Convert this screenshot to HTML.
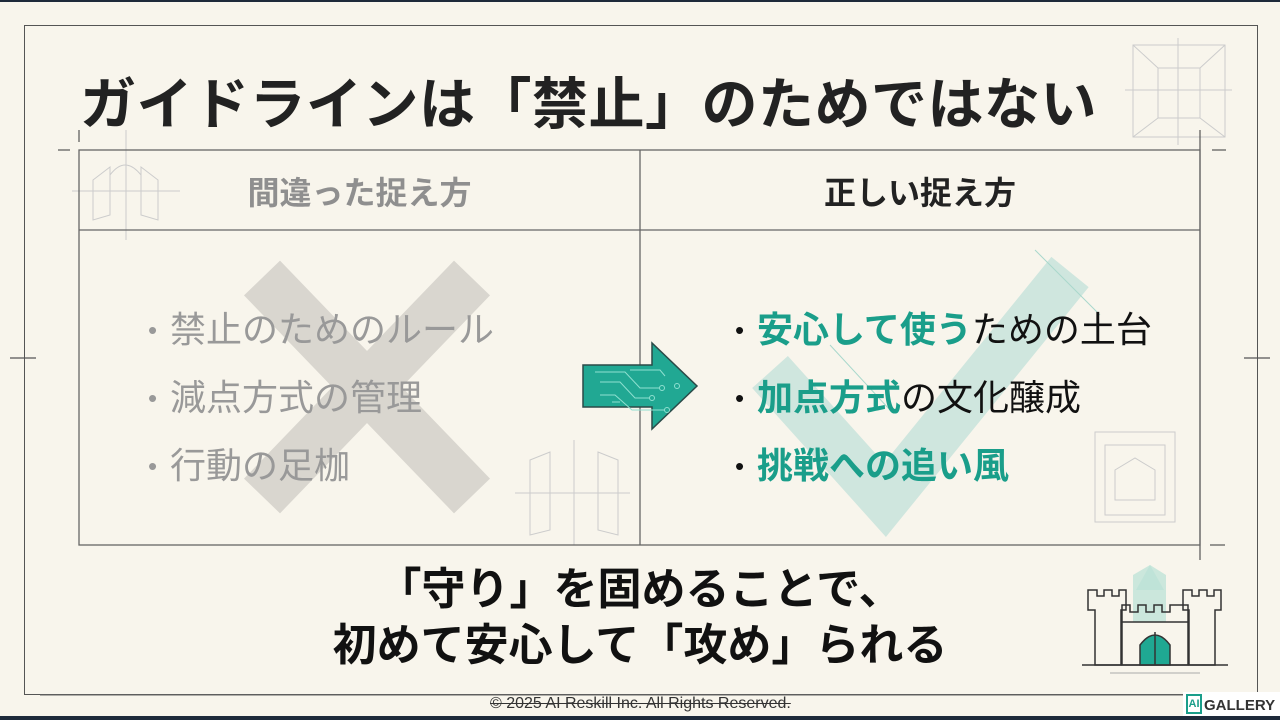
<!DOCTYPE html>
<html><head><meta charset="utf-8"><style>
*{margin:0;padding:0;box-sizing:border-box}
body{width:1280px;height:720px;overflow:hidden;background:#f8f5ec;position:relative;font-family:"Liberation Sans","Noto Sans CJK JP",sans-serif}
.a{position:absolute}
.t{font-weight:700;white-space:nowrap}
.l{position:absolute;white-space:nowrap;font-size:36px;line-height:48px}
.l i{font-style:normal;position:absolute;left:-22px;top:0;font-size:26px}
</style></head><body>
<div class="a" style="left:0;top:0;width:1280px;height:2px;background:#1e2a3a"></div>
<div class="a" style="left:0;top:716px;width:1280px;height:4px;background:#1e2a3a"></div>
<div class="a" style="left:24px;top:25px;width:1234px;height:670px;border:1.5px solid #555"></div>
<svg class="a" style="left:0;top:0" width="1280" height="720">
 <g stroke="#ccc" stroke-width="1" fill="none">
  <rect x="1133" y="45" width="92" height="92"/><rect x="1158" y="68" width="42" height="50"/>
  <line x1="1133" y1="45" x2="1158" y2="68"/><line x1="1225" y1="45" x2="1200" y2="68"/>
  <line x1="1133" y1="137" x2="1158" y2="118"/><line x1="1225" y1="137" x2="1200" y2="118"/>
  <line x1="1125" y1="90" x2="1232" y2="90"/><line x1="1178" y1="38" x2="1178" y2="145"/>
  <path d="M93 180 L110 167 L110 215 L93 220Z M158 180 L141 167 L141 215 L158 220Z M110 175 Q125 155 141 175"/>
  <line x1="72" y1="191" x2="180" y2="191"/><line x1="126" y1="130" x2="126" y2="240"/>
  <path d="M530 460 L550 452 L550 530 L530 535Z M618 460 L598 452 L598 530 L618 535Z"/>
  <line x1="515" y1="493" x2="630" y2="493"/><line x1="574" y1="440" x2="574" y2="545"/>
  <rect x="1095" y="432" width="80" height="90"/><rect x="1105" y="445" width="60" height="70"/>
  <path d="M1115 500 L1115 470 L1135 458 L1155 470 L1155 500Z"/>
 </g>
 <g stroke="#555" stroke-width="1.2">
  <line x1="1200" y1="130" x2="1200" y2="560"/>
  <line x1="1212" y1="150" x2="1226" y2="150"/>
  <line x1="58" y1="150" x2="70" y2="150"/><line x1="79" y1="130" x2="79" y2="142"/>
  <line x1="10" y1="358" x2="36" y2="358"/><line x1="1244" y1="358" x2="1270" y2="358"/>
  <line x1="1210" y1="545" x2="1225" y2="545"/>
 </g>
 <rect x="79" y="150" width="1121" height="395" fill="none" stroke="#666" stroke-width="1.3"/>
 <line x1="79" y1="230" x2="1200" y2="230" stroke="#666" stroke-width="1.3"/>
 <line x1="640" y1="150" x2="640" y2="545" stroke="#666" stroke-width="1.3"/>
 <g stroke="#d9d6cf" stroke-width="50" stroke-linecap="butt">
  <line x1="262" y1="278" x2="472" y2="496"/><line x1="472" y1="278" x2="262" y2="496"/>
 </g>
 <polyline points="770,372 885,500 1070,272" fill="none" stroke="#cfe6de" stroke-width="48"/>
 <g stroke="#a9d8cc" stroke-width="1"><line x1="1035" y1="250" x2="1100" y2="315"/><line x1="830" y1="345" x2="890" y2="410"/></g>
 <path d="M583 365 L652 365 L652 343 L697 386 L652 429 L652 407 L583 407Z" fill="#21a893" stroke="#2a4a48" stroke-width="1.5"/>
 <g stroke="#8fe0d0" stroke-width="1" fill="none">
  <path d="M595 372 L625 372 L640 388 L660 388"/><circle cx="662" cy="388" r="2.5"/>
  <path d="M600 382 L620 382 L635 398 L650 398"/><circle cx="652" cy="398" r="2.5"/>
  <path d="M630 370 L660 370 L665 376"/><path d="M600 395 L615 395 L632 410 L665 410"/><circle cx="667" cy="410" r="2.5"/>
  <circle cx="677" cy="386" r="2.5"/><path d="M620 402 L612 402"/>
 </g>
 <path d="M1133 632 L1133 575 L1150 565 L1166 575 L1166 632Z" fill="#bfe3d8" opacity=".8"/>
 <path d="M1136 590 L1150 565 L1164 590Z" fill="#bfe3d8"/>
 <g stroke="#333" stroke-width="1.5" fill="#f8f5ec">
  <path d="M1088 590 L1088 610 L1095 610 L1095 665 L1121 665 L1121 610 L1126 610 L1126 590 L1119 590 L1119 596 L1112 596 L1112 590 L1104 590 L1104 596 L1097 596 L1097 590Z"/>
  <path d="M1183 590 L1183 610 L1189 610 L1189 665 L1215 665 L1215 610 L1221 610 L1221 590 L1214 590 L1214 596 L1207 596 L1207 590 L1199 590 L1199 596 L1192 596 L1192 590Z"/>
  <path d="M1122 622 L1122 605 L1130 605 L1130 612 L1138 612 L1138 605 L1146 605 L1146 612 L1154 612 L1154 605 L1162 605 L1162 612 L1170 612 L1170 605 L1188 605 L1188 622" fill="none"/>
  <rect x="1122" y="622" width="66" height="43"/>
  <path d="M1140 665 L1140 645 Q1155 625 1170 645 L1170 665Z" fill="#1fa892"/>
  <line x1="1155" y1="632" x2="1155" y2="665"/>
  <line x1="1082" y1="665" x2="1228" y2="665"/>
 </g>
 <line x1="1110" y1="673" x2="1200" y2="673" stroke="#aaa"/>
 <line x1="40" y1="695" x2="1240" y2="695" stroke="#666"/>
</svg>
<div class="a t" style="left:80px;top:60px;font-size:56px;color:#222;letter-spacing:0.5px">ガイドラインは「禁止」のためではない</div>
<div class="a t" style="left:79px;top:168px;width:561px;text-align:center;font-size:32px;color:#8f8f8f">間違った捉え方</div>
<div class="a t" style="left:640px;top:168px;width:560px;text-align:center;font-size:32px;color:#222">正しい捉え方</div>
<div style="color:#999">
<div class="l" style="left:170px;top:306px"><i>•</i>禁止のためのルール</div>
<div class="l" style="left:170px;top:374px"><i>•</i>減点方式の管理</div>
<div class="l" style="left:170px;top:442px"><i>•</i>行動の足枷</div>
</div>
<div style="color:#111">
<div class="l" style="left:757px;top:306px"><i>•</i><b style="color:#1a9e8a">安心して使う</b>ための土台</div>
<div class="l" style="left:757px;top:374px"><i>•</i><b style="color:#1a9e8a">加点方式</b>の文化醸成</div>
<div class="l" style="left:757px;top:442px"><i>•</i><b style="color:#1a9e8a">挑戦への追い風</b></div>
</div>
<div class="a t" style="left:0;top:562px;width:1280px;text-align:center;font-size:44px;line-height:56px;color:#111">「守り」を固めることで、<br>初めて安心して「攻め」られる</div>
<div class="a" style="left:490px;top:695px;font-size:16px;color:#333;text-decoration:line-through;white-space:nowrap">© 2025 AI Reskill Inc. All Rights Reserved.</div>
<div class="a" style="left:1183px;top:692px;width:97px;height:24px;background:#fff"></div>
<div class="a" style="left:1186px;top:694px;width:16px;height:20px;border:2px solid #1a9e8a;font-size:11px;font-weight:700;color:#1a9e8a;line-height:16px;text-align:center">AI</div>
<div class="a t" style="left:1204px;top:697px;font-size:15px;color:#333">GALLERY</div>
</body></html>
